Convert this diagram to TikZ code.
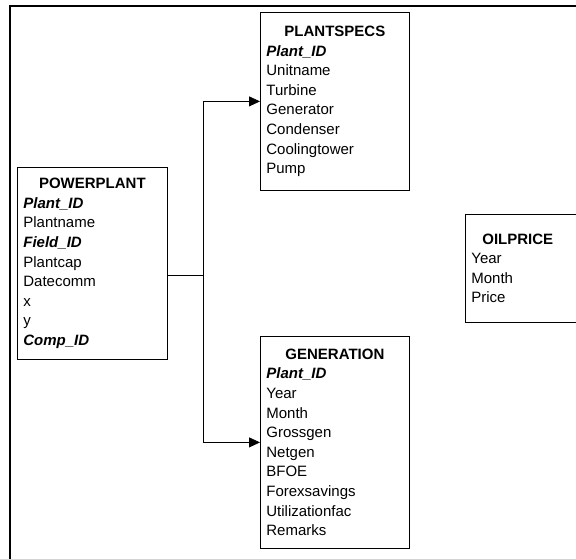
\documentclass[tikz,border=0pt]{standalone}
\usepackage{fontspec}
\setmainfont{Liberation Sans}
\usetikzlibrary{positioning,arrows.meta}

\newcommand{\enttitle}[1]{\makebox[\linewidth]{\bfseries #1}}
\newcommand{\entkey}[1]{\textbf{\textit{#1}}}

\begin{document}
\begin{tikzpicture}[x=1pt,y=-1pt,
    entity/.style={draw, line width=0.8pt, anchor=north west, align=left,
        inner xsep=6pt, inner ysep=0pt,
        font=\fontsize{15}{19.6}\selectfont},
    link/.style={line width=0.8pt, -{Triangle[length=11pt,width=10pt]}}]
\clip (0,0) rectangle (576,559);
\draw[line width=2.5pt] (10,559) -- (10,6) -- (578,6);

\node[entity, text width=138pt, minimum height=192pt] (powerplant) at (17,167)
    {\enttitle{POWERPLANT}\\ \entkey{Plant\_ID}\\ Plantname\\ \entkey{Field\_ID}\\
     Plantcap\\ Datecomm\\ x\\ y\\ \entkey{Comp\_ID}};
\node[entity, text width=137pt, minimum height=178pt] (plantspecs) at (260,12)
    {\enttitle{PLANTSPECS}\\ \entkey{Plant\_ID}\\ Unitname\\ Turbine\\ Generator\\
     Condenser\\ Coolingtower\\ Pump};
\node[entity, text width=137pt, minimum height=212pt] (generation) at (260,336)
    {\enttitle{GENERATION}\\ \entkey{Plant\_ID}\\ Year\\ Month\\ Grossgen\\ Netgen\\
     BFOE\\ Forexsavings\\ Utilizationfac\\ Remarks};
\node[entity, text width=118pt, minimum height=108pt] (oilprice) at (465,214)
    {\hspace*{11pt}\textbf{OILPRICE}\\ Year\\ Month\\ Price};

\coordinate (junction) at (203,275);
\draw[line width=0.8pt] (powerplant.east |- junction) -- (junction);
\draw[link] (junction) |- (plantspecs.west);
\draw[link] (junction) |- (generation.west);
\end{tikzpicture}
\end{document}
